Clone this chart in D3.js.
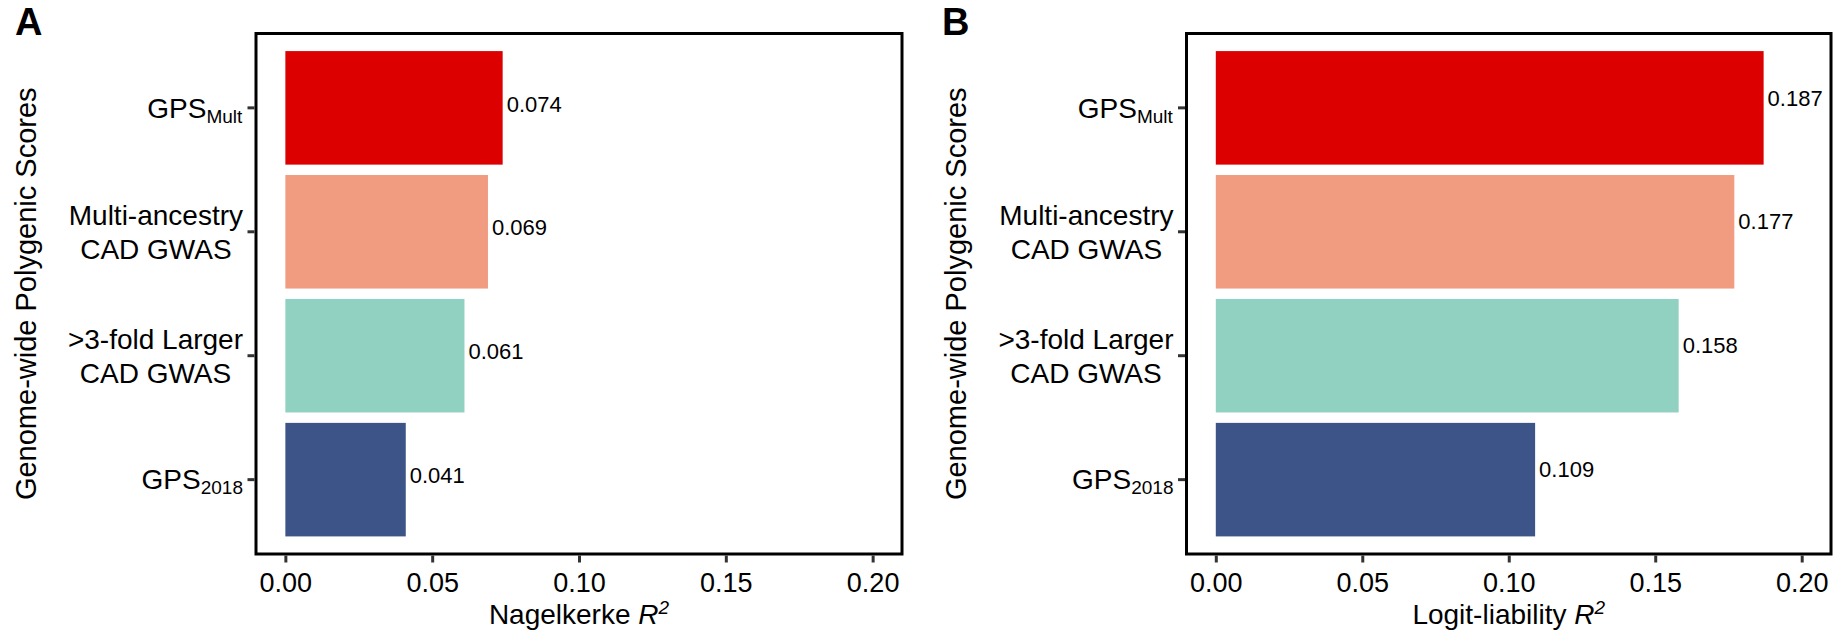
<!DOCTYPE html>
<html>
<head>
<meta charset="utf-8">
<script src="https://cdn.jsdelivr.net/npm/d3@7"></script>
<style>
  html, body { margin: 0; padding: 0; background: #fff; }
  svg { display: block; font-family: "Liberation Sans", Arial, Helvetica, sans-serif; }
</style>
</head>
<body>
<svg id="chart" width="1845" height="636"></svg>
<script>
// ---- data ----
const categories = ["GPS_Mult", "Multi-ancestry", ">3-fold Larger", "GPS_2018"];
const categoryLines = [["GPS|Mult"], ["Multi-ancestry", "CAD GWAS"], [">3-fold Larger", "CAD GWAS"], ["GPS|2018"]];
const valuesA = [0.074, 0.069, 0.061, 0.041];
const valuesB = [0.187, 0.177, 0.158, 0.109];
const barColors = ["#DC0000", "#F19C80", "#91D1C2", "#3C5488"];
const xTicks = [0.00, 0.05, 0.10, 0.15, 0.20];
const panelLetters = ["A", "B"];
const xTitles = ["Nagelkerke ", "Logit-liability "];
const yTitle = "Genome-wide Polygenic Scores";

// ---- layout ----
const svg = d3.select("#chart");
const plotTop = 33.5, plotBottom = 554;
const panels = [
  { letter: panelLetters[0], values: valuesA, xTitle: xTitles[0], left: 256, right: 902, yTitleX: 26, letterX: 15, valShift: -4 },
  { letter: panelLetters[1], values: valuesB, xTitle: xTitles[1], left: 1186.5, right: 1831, yTitleX: 956, letterX: 942, valShift: -10 }
];

panels.forEach(p => {
  const g = svg.append("g");
  const x = d3.scaleLinear().domain([-0.01, 0.21]).range([p.left, p.right]);
  const y = d3.scaleBand().domain(categories).range([plotTop, plotBottom]).paddingInner(0.1).paddingOuter(0.15);

  g.selectAll("rect.bar").data(categories).join("rect")
    .attr("class", "bar")
    .attr("x", x(0))
    .attr("y", d => y(d) - 1)
    .attr("width", (d, i) => x(p.values[i]) - x(0))
    .attr("height", y.bandwidth() + 2)
    .attr("fill", (d, i) => barColors[i]);

  g.selectAll("text.val").data(categories).join("text")
    .attr("class", "val")
    .attr("x", (d, i) => x(p.values[i]) + 4)
    .attr("y", d => y(d) + y.bandwidth() / 2 + p.valShift)
    .attr("dy", "0.35em")
    .attr("font-size", 22)
    .attr("fill", "#000")
    .text((d, i) => d3.format(".3f")(p.values[i]));

  g.append("rect")
    .attr("x", p.left).attr("y", plotTop)
    .attr("width", p.right - p.left).attr("height", plotBottom - plotTop)
    .attr("fill", "none").attr("stroke", "#000").attr("stroke-width", 3);

  const xa = g.append("g").attr("transform", `translate(0,${plotBottom + 1.5})`)
    .call(d3.axisBottom(x).tickValues(xTicks).tickFormat(d3.format(".2f")).tickSize(7).tickPadding(10));
  xa.select(".domain").remove();
  xa.selectAll(".tick line").attr("stroke", "#333").attr("stroke-width", 3);
  xa.selectAll(".tick text").attr("font-size", 27).attr("fill", "#000").attr("font-family", null);

  const ya = g.append("g").attr("transform", `translate(${p.left - 1.5},0)`)
    .call(d3.axisLeft(y).tickSize(7).tickPadding(4).tickFormat(""));
  ya.select(".domain").remove();
  ya.selectAll(".tick line").attr("stroke", "#333").attr("stroke-width", 3);
  ya.selectAll(".tick text").each(function(d, i) {
    const t = d3.select(this).attr("font-size", 28).attr("fill", "#000").attr("font-family", null).attr("text-anchor", "middle").attr("dy", null);
    const lines = categoryLines[i];
    const lh = 34;
    const n = lines.length;
    lines.forEach((ln, k) => {
      const yy = (k - (n - 1) / 2) * lh;
      const parts = ln.split("|");
      t.append("tspan").attr("x", 0).attr("y", yy).attr("dy", "0.35em").text(parts[0]);
      if (parts[1]) {
        t.append("tspan").attr("font-size", 19).attr("dy", 5).text(parts[1]);
      }
    });
  });
  ya.selectAll(".tick text").each(function() {
    const bb = this.getBBox();
    const shift = -11.5 - (bb.x + bb.width);
    d3.select(this).attr("transform", `translate(${shift},0)`);
  });

  const xt = g.append("text")
    .attr("x", (p.left + p.right) / 2).attr("y", 624)
    .attr("text-anchor", "middle").attr("font-size", 28).attr("fill", "#000");
  xt.append("tspan").text(p.xTitle);
  xt.append("tspan").attr("font-style", "italic").text("R");
  xt.append("tspan").attr("font-style", "italic").attr("font-size", 19).attr("dy", -10).text("2");

  g.append("text")
    .attr("transform", `translate(${p.yTitleX},${(plotTop + plotBottom) / 2}) rotate(-90)`)
    .attr("text-anchor", "middle").attr("dy", "0.35em")
    .attr("font-size", 29).attr("fill", "#000")
    .text(yTitle);

  g.append("text")
    .attr("x", p.letterX).attr("y", 35)
    .attr("font-size", 38).attr("font-weight", "bold").attr("fill", "#000")
    .text(p.letter);
});
</script>
</body>
</html>
